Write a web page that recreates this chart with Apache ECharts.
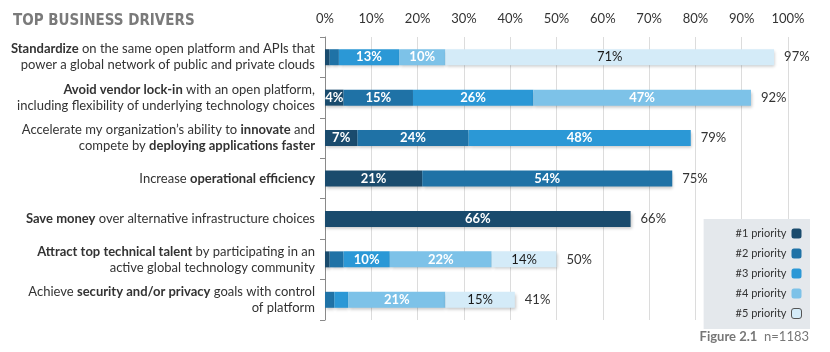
<!DOCTYPE html>
<html>
<head>
<meta charset="utf-8">
<script src="https://cdn.jsdelivr.net/npm/echarts@6/dist/echarts.min.js"></script>
<style>html,body{margin:0;padding:0;background:#fff}#c{width:830px;height:352px}</style>
</head>
<body>
<div id="c"></div>
<script>
const categories = [
  '{b|Standardize} on the same open platform and APIs that\npower a global network of public and private clouds',
  '{b|Avoid vendor lock-in} with an open platform,\nincluding flexibility of underlying technology choices',
  'Accelerate my organization\u2019s ability to {b|innovate} and\ncompete by {b|deploying applications faster}',
  'Increase {b|operational efficiency}',
  '{b|Save money} over alternative infrastructure choices',
  '{b|Attract top technical talent} by participating in an\nactive global technology community',
  'Achieve {b|security and/or privacy} goals with control\nof platform'
];
const seriesNames = ['#1 priority', '#2 priority', '#3 priority', '#4 priority', '#5 priority'];
const priority1 = [1, 4, 7, 21, 66, 1, 0];
const priority2 = [2, 15, 24, 54, 0, 3, 2];
const priority3 = [13, 26, 48, 0, 0, 10, 3];
const priority4 = [10, 47, 0, 0, 0, 22, 21];
const priority5 = [71, 0, 0, 0, 0, 14, 15];
const xTicks = [0, 10, 20, 30, 40, 50, 60, 70, 80, 90, 100];
const figureLabel = 'Figure 2.1';
const sampleLabel = 'n=1183';
const titleText = 'TOP BUSINESS DRIVERS';

const values = [priority1, priority2, priority3, priority4, priority5];
const colors = ['#1a4b6d', '#1f72a6', '#2b98d6', '#7dc2e8', '#d4ebf8'];
const labelColors = ['#fff', '#fff', '#fff', '#fff', '#1a1a1a'];
const totals = categories.map((_, i) => values.reduce((s, arr) => s + arr[i], 0));
const FONT = 'Lato';

const chart = echarts.init(document.getElementById('c'));
const series = values.map((arr, k) => ({
  name: seriesNames[k],
  type: 'bar',
  stack: 'all',
  data: arr,
  barWidth: 16,
  barGap: '-100%',
  itemStyle: { color: colors[k], shadowColor: 'rgba(0,0,0,0.22)', shadowBlur: 3, shadowOffsetY: 2, shadowOffsetX: 1 },
  label: {
    show: true, position: 'inside', color: labelColors[k],
    fontFamily: FONT, fontSize: 13, fontWeight: k === 4 ? 'normal' : 'bold',
    formatter: p => (p.value >= 4 ? p.value + '%' : '')
  },
  emphasis: { disabled: true },
  animation: false
}));
series.push({
  name: 'total', type: 'bar', data: totals, barWidth: 16, barGap: '-100%', silent: true, z: 1,
  itemStyle: { color: 'rgba(0,0,0,0)' },
  label: { show: true, position: 'right', distance: 10, color: '#333', fontFamily: FONT, fontSize: 13,
    formatter: p => p.value + '%' },
  animation: false
});

chart.setOption({
  animation: false,
  title: { text: titleText, left: 8, top: 9,
    textStyle: { fontFamily: '"DejaVu Sans Condensed", "Liberation Sans Narrow", Roboto, sans-serif', fontWeight: 'bold', fontSize: 15, color: '#7a7a7a' } },
  grid: { left: 325, right: 42, top: 37, bottom: 32, containLabel: false },
  xAxis: {
    type: 'value', position: 'top', min: 0, max: 100, interval: 10,
    axisLine: { show: false }, axisTick: { show: false },
    splitLine: { show: true, lineStyle: { color: '#dcdcdc', width: 1 } },
    axisLabel: { formatter: '{value}%', margin: 12, color: '#333', fontFamily: FONT, fontSize: 13 }
  },
  yAxis: {
    type: 'category', inverse: true, data: categories,
    axisLine: { show: true, lineStyle: { color: '#8a8a8a' } },
    axisTick: { show: true, length: 5, lineStyle: { color: '#8a8a8a' } },
    axisLabel: {
      margin: 10, color: '#333', fontFamily: FONT, fontSize: 13, lineHeight: 16, align: 'right',
      rich: { b: { fontFamily: FONT, fontSize: 13, fontWeight: 'bold', color: '#333', lineHeight: 16 } }
    }
  },
  legend: {
    data: seriesNames.map((n, k) => k === 4
      ? { name: n, itemStyle: { color: colors[4], borderColor: '#555', borderWidth: 1, shadowBlur: 0, shadowOffsetX: 0, shadowOffsetY: 0 } }
      : { name: n, itemStyle: { shadowBlur: 0, shadowOffsetX: 0, shadowOffsetY: 0 } }),
    orient: 'vertical', right: 20, top: 219, align: 'right',
    itemWidth: 10, itemHeight: 10, itemGap: 9,
    backgroundColor: '#e4e8ec', padding: [9, 8, 10, 32],
    textStyle: { fontFamily: FONT, fontSize: 11, color: '#333' },
    selectedMode: false
  },
  graphic: [{
    type: 'text', right: 21, top: 330,
    style: {
      text: '{f|' + figureLabel + '}  {n|' + sampleLabel + '}',
      rich: {
        f: { fontFamily: FONT, fontSize: 13, fontWeight: 'bold', fill: '#777' },
        n: { fontFamily: FONT, fontSize: 13, fill: '#777' }
      }
    }
  }],
  series: series
});
</script>
</body>
</html>
